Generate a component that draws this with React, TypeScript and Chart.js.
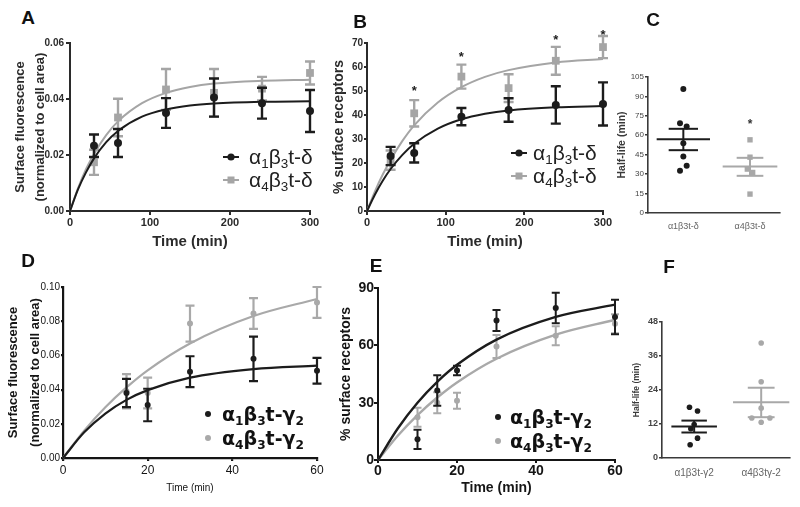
import React, { useEffect, useRef } from "react";
import { Chart, registerables } from "chart.js";

Chart.register(...registerables);

const SANS = "'Liberation Sans', Arial, sans-serif";
const INK = "#1c1c1c";
const GREY = "#a5a5a5";

// ---------- Panel A : surface fluorescence, t-delta ----------
const timesA = [30, 60, 120, 180, 240, 300];
const a1MeanA = [0.0233, 0.0243, 0.035, 0.0405, 0.0385, 0.0357];
const a1SemA = [0.004, 0.005, 0.0053, 0.0068, 0.0055, 0.0075];
const a4MeanA = [0.0174, 0.0334, 0.0434, 0.0422, 0.0437, 0.0493];
const a4SemA = [0.0045, 0.0067, 0.0073, 0.0085, 0.0042, 0.0041];
const fitTimesAB = [0, 10, 20, 30, 45, 60, 90, 120, 150, 180, 240, 300];
const a1FitA = [0, 0.0077, 0.0138, 0.0188, 0.0245, 0.0286, 0.0337, 0.0363, 0.0377, 0.0384, 0.039, 0.0392];
const a4FitA = [0, 0.0081, 0.0149, 0.0204, 0.027, 0.032, 0.0385, 0.0422, 0.0443, 0.0455, 0.0465, 0.0469];
const yTicksA = [0, 0.02, 0.04, 0.06];
const xTicksAB = [0, 100, 200, 300];

// ---------- Panel B : % surface receptors, t-delta ----------
const timesB = [30, 60, 120, 180, 240, 300];
const a1MeanB = [22.9, 24.2, 39.3, 42.1, 44.2, 44.6];
const a1SemB = [3.8, 4, 3.6, 4.9, 7.8, 9];
const a4MeanB = [21.2, 40.7, 56, 51.2, 62.6, 68.3];
const a4SemB = [4, 5.5, 5, 5.8, 5.8, 4.6];
const a1FitB = [0, 6.8, 12.6, 17.5, 23.4, 28, 34.3, 38.2, 40.5, 41.9, 43.2, 43.7];
const a4FitB = [0, 8.1, 15.2, 21.3, 29.2, 35.7, 45.2, 51.6, 55.9, 58.7, 61.9, 63.3];
const starTimesB = [60, 120, 240, 300];
const starValuesB = [51.2, 65.1, 72.5, 74.6];
const yTicksB = [0, 10, 20, 30, 40, 50, 60, 70];

// ---------- Panel C : half-life, t-delta ----------
const groupsC = ["α1β3t-δ", "α4β3t-δ"];
const c1Values = [95.8, 69.3, 66.7, 53.9, 43.6, 36.4, 32.6];
const c1Jitter = [0, -0.05, 0.05, 0, 0, 0.05, -0.05];
const c4Values = [56.5, 43.1, 33.9, 31.3, 14.6];
const c4Jitter = [0, 0, -0.04, 0.04, 0];
const c1Stats = [57, 65, 48.5]; // mean, mean+SEM, mean-SEM
const c4Stats = [35.9, 42.6, 28.7];
const starValueC = 70.6;
const yTicksC = [0, 15, 30, 45, 60, 75, 90, 105];

// ---------- Panel D : surface fluorescence, t-gamma2 ----------
const timesD = [15, 20, 30, 45, 60];
const a1MeanD = [0.038, 0.031, 0.0505, 0.058, 0.051];
const a1SemD = [0.0083, 0.0095, 0.009, 0.013, 0.0075];
const a4MeanD = [0.039, 0.038, 0.0786, 0.0845, 0.091];
const a4SemD = [0.01, 0.009, 0.0105, 0.009, 0.009];
const fitTimesDE = [0, 5, 10, 15, 20, 30, 45, 60];
const a1FitD = [0, 0.015, 0.026, 0.034, 0.0397, 0.047, 0.052, 0.054];
const a4FitD = [0, 0.016, 0.0297, 0.0413, 0.0513, 0.067, 0.083, 0.093];
const yTicksD = [0, 0.02, 0.04, 0.06, 0.08, 0.1];
const xTicksDE = [0, 20, 40, 60];

// ---------- Panel E : % surface receptors, t-gamma2 ----------
const timesE = [10, 15, 20, 30, 45, 60];
const a1MeanE = [10.8, 36.4, 46.8, 73, 79.5, 74.8];
const a1SemE = [5, 8, 2.5, 5.5, 8, 9];
const a4MeanE = [22.4, 30, 31, 59.4, 65, 71.3];
const a4SemE = [5, 5.5, 4.2, 6, 5, 5];
const a1FitE = [0, 16.5, 30, 40.9, 49.8, 63, 74.9, 81.3];
const a4FitE = [0, 12.7, 23.5, 32.7, 40.6, 53, 65.6, 73.4];
const yTicksE = [0, 30, 60, 90];

// ---------- Panel F : half-life, t-gamma2 ----------
const groupsF = ["α1β3t-γ2", "α4β3tγ-2"];
const f1Values = [17.9, 16.6, 11.8, 10.3, 7.0, 4.7];
const f1Jitter = [-0.07, 0.05, 0, -0.05, 0.05, -0.06];
const f4Values = [40.6, 26.9, 17.6, 14.1, 12.6, 14.1];
const f4Jitter = [0, 0, 0, -0.14, 0, 0.13];
const f1Stats = [11.1, 13.2, 9.0];
const f4Stats = [19.7, 24.8, 14.4];
const yTicksF = [0, 12, 24, 36, 48];

const legendDelta = ["α1β3t-δ", "α4β3t-δ"];
const legendGamma = ["α1β3t-γ2", "α4β3t-γ2"];

// ---------------------------------------------------------------
const pairs = (xs: number[], ys: number[]) => xs.map((x, i) => ({ x, y: ys[i] }));

const errorBarPlugin = {
  id: "errorBars",
  beforeDatasetDraw(chart: any, args: any) {
    const ds = chart.data.datasets[args.index];
    if (!ds.errors) return;
    const { ctx } = chart;
    const ys = chart.scales.y;
    ctx.save();
    ctx.strokeStyle = ds.errColor;
    ctx.lineWidth = ds.errWidth;
    args.meta.data.forEach((pt: any, j: number) => {
      const v = ds.data[j].y;
      const e = ds.errors[j];
      const yt = ys.getPixelForValue(v + e);
      const yb = ys.getPixelForValue(v - e);
      const x = pt.x;
      const c = ds.capHalf;
      ctx.beginPath();
      ctx.moveTo(x, yt);
      ctx.lineTo(x, yb);
      ctx.moveTo(x - c, yt);
      ctx.lineTo(x + c, yt);
      ctx.moveTo(x - c, yb);
      ctx.lineTo(x + c, yb);
      ctx.stroke();
    });
    ctx.restore();
  },
};

const starPlugin = {
  id: "stars",
  afterDatasetsDraw(chart: any, _a: any, opts: any) {
    if (!opts || !opts.items) return;
    const { ctx } = chart;
    ctx.save();
    ctx.fillStyle = opts.color;
    ctx.font = opts.font;
    ctx.textAlign = "center";
    ctx.textBaseline = "middle";
    opts.items.forEach((it: any) => {
      ctx.fillText("*", chart.scales.x.getPixelForValue(it.x), chart.scales.y.getPixelForValue(it.y) + 3);
    });
    ctx.restore();
  },
};

const meanSemPlugin = {
  id: "meanSem",
  afterDatasetsDraw(chart: any, _a: any, opts: any) {
    if (!opts || !opts.groups) return;
    const { ctx } = chart;
    const { x, y } = chart.scales;
    opts.groups.forEach((g: any) => {
      ctx.save();
      ctx.strokeStyle = g.color;
      ctx.lineWidth = g.width;
      const hline = (v: number, half: number) => {
        const py = y.getPixelForValue(v);
        ctx.beginPath();
        ctx.moveTo(x.getPixelForValue(g.x - half), py);
        ctx.lineTo(x.getPixelForValue(g.x + half), py);
        ctx.stroke();
      };
      hline(g.stats[0], g.meanHalf);
      hline(g.stats[1], g.semHalf);
      hline(g.stats[2], g.semHalf);
      const cx = x.getPixelForValue(g.x);
      ctx.beginPath();
      ctx.moveTo(cx, y.getPixelForValue(g.stats[1]));
      ctx.lineTo(cx, y.getPixelForValue(g.stats[2]));
      ctx.stroke();
      ctx.restore();
    });
  },
};

function scale(o: any) {
  const col = o.axisColor || "#2b2b2b";
  return {
    type: "linear",
    min: o.min,
    max: o.max,
    afterFit: o.horizontal
      ? (s: any) => {
          s.height = o.size;
        }
      : (s: any) => {
          s.width = o.size;
        },
    afterBuildTicks: (s: any) => {
      s.ticks = o.ticks.map((v: number) => ({ value: v }));
    },
    ticks: {
      font: o.tickFont,
      color: o.tickColor || col,
      padding: o.tickPad ?? 2,
      maxRotation: 0,
      minRotation: 0,
      autoSkip: false,
      callback: o.fmt || ((v: number) => String(v)),
    },
    grid: {
      display: true,
      drawOnChartArea: false,
      drawTicks: (o.tickLen || 0) > 0,
      tickLength: o.tickLen || 0,
      color: col,
      lineWidth: o.axisWidth || 1.5,
    },
    border: { display: true, color: col, width: o.axisWidth || 1.5 },
    title: o.title
      ? { display: true, text: o.title, font: o.titleFont, color: o.titleColor || col, padding: 0 }
      : { display: false },
  };
}

type Geo = { l: number; t: number; r: number; b: number; yw: number; xh: number; pt: number; pr: number };

function baseOptions(geo: Geo, x: any, y: any, plugins: any = {}) {
  return {
    animation: false,
    responsive: true,
    maintainAspectRatio: false,
    events: [],
    layout: { padding: { left: 0, top: geo.pt, right: geo.pr, bottom: 0 } },
    plugins: { legend: { display: false }, tooltip: { enabled: false }, ...plugins },
    scales: { x, y },
  };
}

function timeDatasets(p: any) {
  return [
    {
      data: pairs(p.times, p.m1),
      pointStyle: "circle",
      pointRadius: p.r1,
      backgroundColor: INK,
      borderColor: INK,
      borderWidth: 0,
      errors: p.s1,
      errColor: INK,
      errWidth: p.errW,
      capHalf: p.cap,
      clip: false,
    },
    {
      data: pairs(p.fitT, p.f1),
      showLine: true,
      pointRadius: 0,
      borderColor: INK,
      borderWidth: p.lineW,
      cubicInterpolationMode: "monotone",
      fill: false,
      clip: false,
    },
    {
      data: pairs(p.times, p.m4),
      pointStyle: p.style4,
      pointRadius: p.r4,
      backgroundColor: p.grey,
      borderColor: p.grey,
      borderWidth: 0,
      errors: p.s4,
      errColor: p.grey,
      errWidth: p.errW,
      capHalf: p.cap,
      clip: false,
    },
    {
      data: pairs(p.fitT, p.f4),
      showLine: true,
      pointRadius: 0,
      borderColor: p.grey,
      borderWidth: p.lineW,
      cubicInterpolationMode: "monotone",
      fill: false,
      clip: false,
    },
  ];
}

const geoA: Geo = { l: 70, t: 43, r: 310, b: 211, yw: 60, xh: 40, pt: 12, pr: 16 };
const geoB: Geo = { l: 367, t: 43, r: 603, b: 211, yw: 36, xh: 40, pt: 22, pr: 16 };
const geoC: Geo = { l: 648, t: 77, r: 780, b: 213, yw: 32, xh: 25, pt: 12, pr: 12 };
const geoD: Geo = { l: 63, t: 287, r: 317, b: 458, yw: 60, xh: 36, pt: 12, pr: 14 };
const geoE: Geo = { l: 378, t: 288, r: 615, b: 460, yw: 40, xh: 37, pt: 12, pr: 14 };
const geoF: Geo = { l: 662, t: 322, r: 790, b: 458, yw: 30, xh: 25, pt: 12, pr: 8 };

const bold = (size: number, lh = 1.2) => ({ family: SANS, size, weight: "bold", lineHeight: lh });
const normal = (size: number, lh = 1.2) => ({ family: SANS, size, weight: "normal", lineHeight: lh });

function buildA() {
  return {
    type: "scatter",
    data: {
      datasets: timeDatasets({
        times: timesA, m1: a1MeanA, s1: a1SemA, m4: a4MeanA, s4: a4SemA,
        fitT: fitTimesAB, f1: a1FitA, f4: a4FitA,
        r1: 4, r4: 5.5, style4: "rect", grey: GREY, errW: 2.4, cap: 5, lineW: 2,
      }),
    },
    options: baseOptions(
      geoA,
      scale({ horizontal: true, size: geoA.xh, min: 0, max: 300, ticks: xTicksAB, tickFont: bold(11), tickLen: 4, tickPad: 1, axisWidth: 2, title: "Time (min)", titleFont: bold(15) }),
      scale({ size: geoA.yw, min: 0, max: 0.06, ticks: yTicksA, fmt: (v: number) => v.toFixed(2), tickFont: bold(10), tickLen: 4, tickPad: 2, axisWidth: 2, title: ["Surface fluorescence", "(normalized to cell area)"], titleFont: bold(13, 1.55) })
    ),
    plugins: [errorBarPlugin],
  };
}

function buildB() {
  return {
    type: "scatter",
    data: {
      datasets: timeDatasets({
        times: timesB, m1: a1MeanB, s1: a1SemB, m4: a4MeanB, s4: a4SemB,
        fitT: fitTimesAB, f1: a1FitB, f4: a4FitB,
        r1: 4, r4: 5.5, style4: "rect", grey: GREY, errW: 2.4, cap: 5, lineW: 2,
      }),
    },
    options: baseOptions(
      geoB,
      scale({ horizontal: true, size: geoB.xh, min: 0, max: 300, ticks: xTicksAB, tickFont: bold(11), tickLen: 4, tickPad: 1, axisWidth: 2, title: "Time (min)", titleFont: bold(15) }),
      scale({ size: geoB.yw, min: 0, max: 70, ticks: yTicksB, tickFont: bold(10), tickLen: 3, tickPad: 1, axisWidth: 2, title: "% surface receptors", titleFont: bold(14) }),
      { stars: { items: pairs(starTimesB, starValuesB), color: INK, font: `bold 13px ${SANS}` } }
    ),
    plugins: [errorBarPlugin, starPlugin],
  };
}

function halfLifeConfig(geo: Geo, o: any) {
  return {
    type: "scatter",
    data: {
      datasets: [
        {
          data: o.v1.map((v: number, i: number) => ({ x: 1 + o.j1[i], y: v })),
          pointStyle: "circle",
          pointRadius: o.r1,
          backgroundColor: INK,
          borderWidth: 0,
          clip: false,
        },
        {
          data: o.v4.map((v: number, i: number) => ({ x: 2 + o.j4[i], y: v })),
          pointStyle: o.style4,
          pointRadius: o.r4,
          backgroundColor: o.grey,
          borderWidth: 0,
          clip: false,
        },
      ],
    },
    options: baseOptions(
      geo,
      scale({ horizontal: true, size: geo.xh, min: o.xMin, max: o.xMax, ticks: [1, 2], fmt: (v: number) => o.groups[v - 1], tickFont: normal(o.xFont), tickColor: "#666", tickLen: 0, tickPad: o.xPad, axisWidth: 1.6, axisColor: "#3a3a3a" }),
      scale({ size: geo.yw, min: 0, max: o.yMax, ticks: o.yTicks, tickFont: o.yTickFont, tickColor: "#444", tickLen: 3, tickPad: 1, axisWidth: 1.6, axisColor: "#3a3a3a", title: "Half-life (min)", titleFont: o.titleFont }),
      {
        meanSem: {
          groups: [
            { x: 1, stats: o.st1, color: INK, width: 2, meanHalf: o.mh1, semHalf: o.sh1 },
            { x: 2, stats: o.st4, color: o.grey, width: 2, meanHalf: o.mh4, semHalf: o.sh4 },
          ],
        },
        stars: o.star ? { items: [{ x: 2, y: o.star }], color: "#333", font: `bold 12px ${SANS}` } : {},
      }
    ),
    plugins: [meanSemPlugin, starPlugin],
  };
}

function buildC() {
  return halfLifeConfig(geoC, {
    v1: c1Values, j1: c1Jitter, v4: c4Values, j4: c4Jitter, st1: c1Stats, st4: c4Stats,
    r1: 3, r4: 3.8, style4: "rect", grey: "#a8a8a8", xMin: 0.47, xMax: 2.45, groups: groupsC,
    xFont: 9, xPad: 8, yMax: 105, yTicks: yTicksC, yTickFont: normal(8), titleFont: bold(10.5),
    mh1: 0.4, sh1: 0.22, mh4: 0.41, sh4: 0.2, star: starValueC,
  });
}

function buildF() {
  return halfLifeConfig(geoF, {
    v1: f1Values, j1: f1Jitter, v4: f4Values, j4: f4Jitter, st1: f1Stats, st4: f4Stats,
    r1: 2.8, r4: 2.8, style4: "circle", grey: "#a8a8a8", xMin: 0.52, xMax: 2.43, groups: groupsF,
    xFont: 10, xPad: 9, yMax: 48, yTicks: yTicksF, yTickFont: bold(9), titleFont: bold(8.5),
    mh1: 0.34, sh1: 0.19, mh4: 0.42, sh4: 0.2, star: 0,
  });
}

function buildD() {
  return {
    type: "scatter",
    data: {
      datasets: timeDatasets({
        times: timesD, m1: a1MeanD, s1: a1SemD, m4: a4MeanD, s4: a4SemD,
        fitT: fitTimesDE, f1: a1FitD, f4: a4FitD,
        r1: 3, r4: 3, style4: "circle", grey: "#a9a9a9", errW: 2.2, cap: 4.5, lineW: 2.2,
      }),
    },
    options: baseOptions(
      geoD,
      scale({ horizontal: true, size: geoD.xh, min: 0, max: 60, ticks: xTicksDE, tickFont: normal(12), tickLen: 3, tickPad: 2, axisWidth: 2.2, axisColor: "#151515", title: "Time (min)", titleFont: normal(10) }),
      scale({ size: geoD.yw, min: 0, max: 0.1, ticks: yTicksD, fmt: (v: number) => v.toFixed(2), tickFont: normal(10), tickLen: 2, tickPad: 1, axisWidth: 2.2, axisColor: "#151515", title: ["Surface fluorescence", "(normalized to cell area)"], titleFont: bold(13, 1.65) })
    ),
    plugins: [errorBarPlugin],
  };
}

function buildE() {
  return {
    type: "scatter",
    data: {
      datasets: timeDatasets({
        times: timesE, m1: a1MeanE, s1: a1SemE, m4: a4MeanE, s4: a4SemE,
        fitT: fitTimesDE, f1: a1FitE, f4: a4FitE,
        r1: 3, r4: 3, style4: "circle", grey: "#a9a9a9", errW: 2, cap: 4, lineW: 2.4,
      }),
    },
    options: baseOptions(
      geoE,
      scale({ horizontal: true, size: geoE.xh, min: 0, max: 60, ticks: xTicksDE, tickFont: bold(14), tickLen: 3, tickPad: 0, axisWidth: 2, axisColor: "#151515", title: "Time (min)", titleFont: bold(14) }),
      scale({ size: geoE.yw, min: 0, max: 90, ticks: yTicksE, tickFont: bold(14), tickLen: 4, tickPad: 0, axisWidth: 2, axisColor: "#151515", title: "% surface receptors", titleFont: bold(14) })
    ),
    plugins: [errorBarPlugin],
  };
}

function ChartBox({ geo, build }: { geo: Geo; build: () => any }) {
  const ref = useRef<HTMLCanvasElement>(null);
  useEffect(() => {
    const c = new Chart(ref.current as HTMLCanvasElement, build());
    return () => c.destroy();
  }, []);
  const style: React.CSSProperties = {
    position: "absolute",
    left: geo.l - geo.yw,
    top: geo.t - geo.pt,
    width: geo.r - geo.l + geo.yw + geo.pr,
    height: geo.b - geo.t + geo.pt + geo.xh,
  };
  return (
    <div style={style}>
      <canvas ref={ref} />
    </div>
  );
}

function withSubs(name: string) {
  const out: React.ReactNode[] = [];
  const chars = Array.from(name);
  chars.forEach((ch, i) => {
    const prev = chars[i - 1];
    if (/[0-9]/.test(ch) && prev && /[αβγδ]/.test(prev)) {
      out.push(
        <sub key={i} style={{ fontSize: "0.64em", verticalAlign: "-0.32em", lineHeight: 0 }}>
          {ch}
        </sub>
      );
    } else out.push(<span key={i}>{ch}</span>);
  });
  return out;
}

function LineLegendRow({ x, textX, y, name, color, square }: any) {
  return (
    <>
      <svg style={{ position: "absolute", left: x - 8, top: y - 5 }} width={16} height={10}>
        <line x1={0} y1={5} x2={16} y2={5} stroke={color} strokeWidth={2} />
        {square ? <rect x={4.5} y={1.5} width={7} height={7} fill={color} /> : <circle cx={8} cy={5} r={3.6} fill={color} />}
      </svg>
      <div style={{ position: "absolute", left: textX, top: y - 13, height: 26, lineHeight: "26px", fontSize: 21, fontFamily: SANS, color: "#222", whiteSpace: "nowrap" }}>
        {withSubs(name)}
      </div>
    </>
  );
}

function DotLegendRow({ x, textX, y, name, color }: any) {
  return (
    <>
      <div style={{ position: "absolute", left: x - 3, top: y - 3, width: 6, height: 6, borderRadius: 3, background: color }} />
      <div style={{ position: "absolute", left: textX, top: y - 13, height: 26, lineHeight: "26px", fontSize: 19, fontWeight: "bold", fontFamily: "'DejaVu Sans', sans-serif", color: "#111", whiteSpace: "nowrap" }}>
        {withSubs(name)}
      </div>
    </>
  );
}

function Letter({ x, y, ch }: any) {
  return (
    <div style={{ position: "absolute", left: x, top: y, transform: "translate(-50%,-50%)", fontFamily: SANS, fontWeight: "bold", fontSize: 19, lineHeight: 1, color: "#111" }}>
      {ch}
    </div>
  );
}

export default function App() {
  return (
    <div style={{ position: "fixed", left: 0, top: 0, width: 800, height: 507, background: "#fff", overflow: "hidden" }}>
      <ChartBox geo={geoA} build={buildA} />
      <ChartBox geo={geoB} build={buildB} />
      <ChartBox geo={geoC} build={buildC} />
      <ChartBox geo={geoD} build={buildD} />
      <ChartBox geo={geoE} build={buildE} />
      <ChartBox geo={geoF} build={buildF} />

      <LineLegendRow x={231} textX={249} y={157} name={legendDelta[0]} color={INK} />
      <LineLegendRow x={231} textX={249} y={180} name={legendDelta[1]} color={GREY} square />
      <LineLegendRow x={519} textX={533} y={153} name={legendDelta[0]} color={INK} />
      <LineLegendRow x={519} textX={533} y={176} name={legendDelta[1]} color={GREY} square />

      <DotLegendRow x={208} textX={222} y={414} name={legendGamma[0]} color={INK} />
      <DotLegendRow x={208} textX={222} y={438} name={legendGamma[1]} color="#a9a9a9" />
      <DotLegendRow x={498} textX={510} y={417} name={legendGamma[0]} color={INK} />
      <DotLegendRow x={498} textX={510} y={441} name={legendGamma[1]} color="#a9a9a9" />

      <Letter x={28} y={17} ch="A" />
      <Letter x={360} y={21} ch="B" />
      <Letter x={653} y={19} ch="C" />
      <Letter x={28} y={260} ch="D" />
      <Letter x={376} y={265} ch="E" />
      <Letter x={669} y={266} ch="F" />
    </div>
  );
}
